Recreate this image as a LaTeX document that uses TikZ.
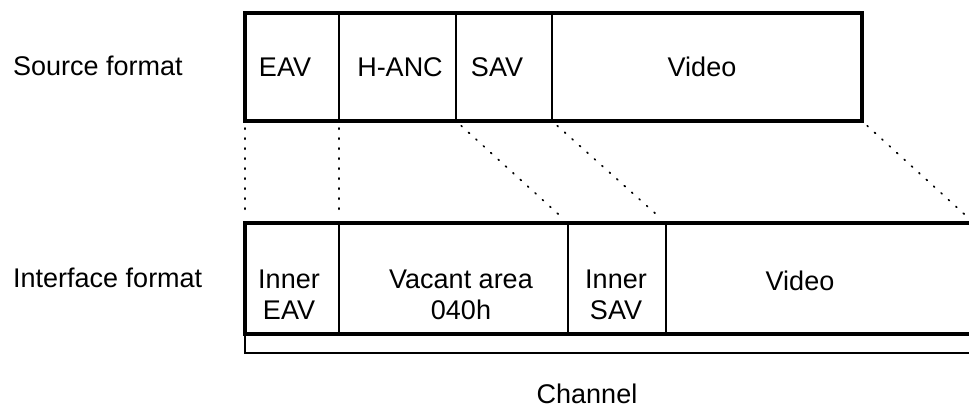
\documentclass[tikz,border=0pt]{standalone}
\usepackage{fontspec}
\setmainfont{Liberation Sans}
\begin{document}
\begin{tikzpicture}[x=1pt,y=-1pt]
\tikzset{
  cellbox/.style={draw=black, line width=1.8pt, inner sep=0pt, outer sep=0pt},
  frame/.style={draw=black, line width=3.8pt, line join=miter},
  chanbar/.style={draw=black, line width=1.6pt},
  lbl/.style={font=\fontsize{27}{31}\selectfont, inner sep=0pt, anchor=base, align=center},
  dots/.style={line width=1.7pt, dash pattern=on 1.2pt off 8.8pt, line cap=round, shorten <=7pt, shorten >=7pt}
}
\useasboundingbox (0,0) rectangle (969,408);
\clip (0,0) rectangle (969,408);

% Source format cells
\node[cellbox, minimum width=94pt,  minimum height=108pt] (eav)   at (292,67) {};
\node[cellbox, minimum width=117pt, minimum height=108pt] (hanc)  at (397.5,67) {};
\node[cellbox, minimum width=96pt,  minimum height=108pt] (sav)   at (504,67) {};
\node[cellbox, minimum width=310pt, minimum height=108pt] (video) at (707,67) {};
\draw[frame] (eav.north west) rectangle (video.south east);

% Interface format cells
\node[cellbox, minimum width=94pt,  minimum height=111pt] (ieav) at (292,278.5) {};
\node[cellbox, minimum width=229pt, minimum height=111pt] (vac)  at (453.5,278.5) {};
\node[cellbox, minimum width=98pt,  minimum height=111pt] (isav) at (617,278.5) {};
\node[cellbox, minimum width=324pt, minimum height=111pt] (ivid) at (828,278.5) {};
\draw[frame] (ivid.north east) -- (ieav.north west) -- (ieav.south west) -- (ivid.south east);

% Channel bar
\coordinate (chR) at (990,353);
\draw[chanbar] (ieav.south west) |- (chR);

% Dotted mapping lines
\coordinate (vend) at (974,223);
\draw[dots] (eav.south west) -- (ieav.north west);
\draw[dots] (hanc.south west) -- (vac.north west);
\draw[dots] (sav.south west) -- (isav.north west);
\draw[dots] (video.south west) -- (ivid.north west);
\draw[dots] (video.south east) -- (vend);

% Labels
\node[lbl, anchor=base west] (srcfmt) at (13,75) {Source format};
\node[lbl, anchor=base west] (iffmt)  at (13,287) {Interface format};

\node[lbl] (teav)  at (285,76) {EAV};
\node[lbl] (thanc) at (400,76) {H-ANC};
\node[lbl] (tsav)  at (497,76) {SAV};
\node[lbl] (tvid)  at (702,76) {Video};

\node[lbl] (tieav) at (289,319) {Inner\\EAV};
\node[lbl] (tvac)  at (461,319) {Vacant area\\040h};
\node[lbl] (tisav) at (616,319) {Inner\\SAV};
\node[lbl] (tivid) at (800,290) {Video};

\node[lbl] (tchan) at (587,403) {Channel};
\end{tikzpicture}
\end{document}
